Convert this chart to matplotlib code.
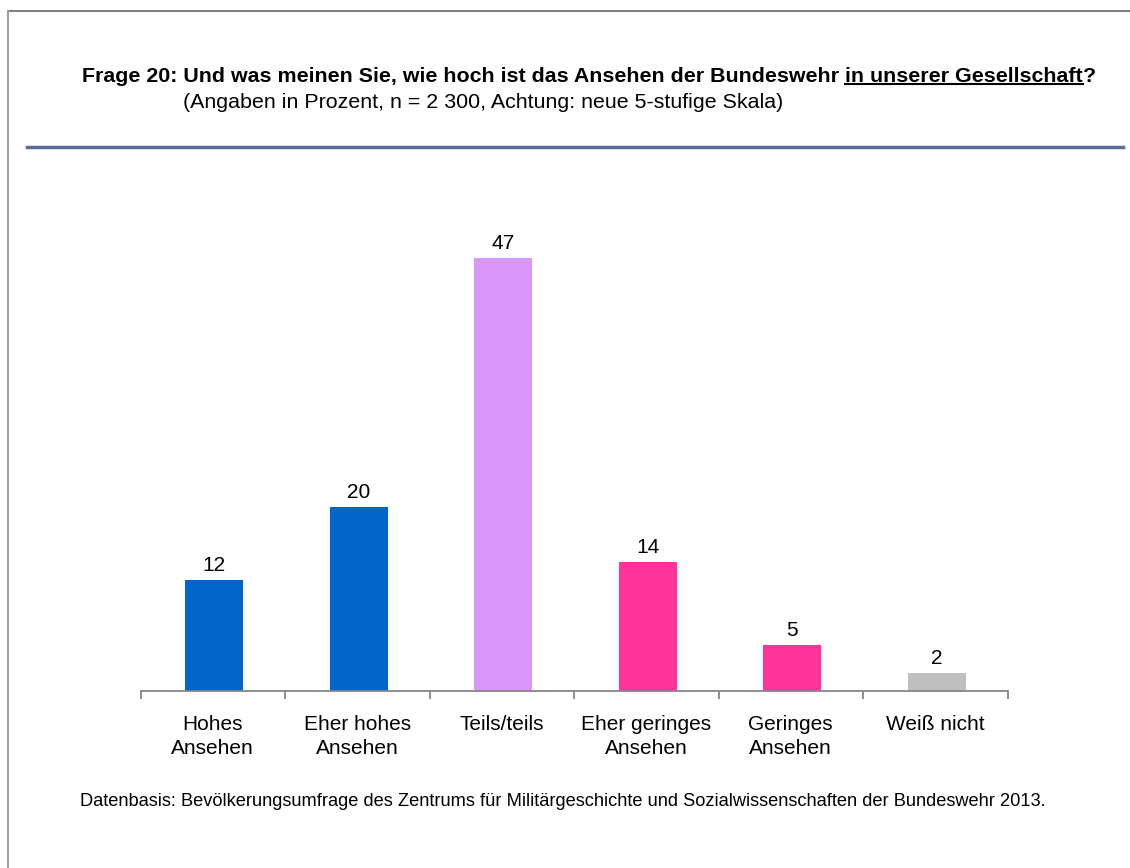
import numpy as np
import matplotlib.pyplot as plt
from matplotlib.lines import Line2D

plt.rcParams['font.family'] = ['Liberation Sans', 'DejaVu Sans']

#data
categories = ["Hohes\nAnsehen", "Eher hohes\nAnsehen", "Teils/teils",
              "Eher geringes\nAnsehen", "Geringes\nAnsehen", "Weiß nicht"]
values = [12, 20, 47, 14, 5, 2]
colors = ["#0066cc", "#0066cc", "#da96fb", "#ff3399", "#ff3399", "#bfbfbf"]

W, H = 1130, 868
fig = plt.figure(figsize=(W/100, H/100), dpi=100)

#frame lines (top and left only)
fig.add_artist(Line2D([7.5/W, 1], [1-11/H, 1-11/H], color="#7f7f7f", lw=1.5))
fig.add_artist(Line2D([7.5/W, 7.5/W], [0, 1-11/H], color="#a0a0a0", lw=1.5))

#title, built in pieces so the middle part can be underlined
ty = 1-76/H
fs = 15.4
a = fig.text(82/W, ty, "Frage 20: Und was meinen Sie, wie hoch ist das Ansehen der Bundeswehr ",
             fontsize=fs, fontweight="bold", va="center", ha="left")
fig.canvas.draw()
ra = a.get_window_extent()
u = fig.text(ra.x1/W, ty, "in unserer Gesellschaft", fontsize=fs,
             fontweight="bold", va="center", ha="left")
fig.canvas.draw()
ru = u.get_window_extent()
fig.text(ru.x1/W, ty, "?", fontsize=fs, fontweight="bold", va="center", ha="left")
fig.add_artist(Line2D([ru.x0/W, ru.x1/W], [1-84/H, 1-84/H], color="black", lw=1.5))
fig.text(183/W, 1-103/H, "(Angaben in Prozent, n = 2 300, Achtung: neue 5-stufige Skala)",
         fontsize=15.4, va="center", ha="left")
fig.add_artist(Line2D([27/W, 1123/W], [1-147/H, 1-147/H], color="#5b6b98", lw=2.5))

#chart
ax = fig.add_axes([140.5/W, 1-691/H, 867/W, 460.6/H])
x = np.arange(len(values))
ax.bar(x + 0.01, values, width=0.4, color=colors)
for xi, v in zip(x, values):
    ax.text(xi + 0.01, v + 0.55, str(v), ha="center", va="bottom", fontsize=15)
ax.set_xlim(-0.5, 5.5)
ax.set_ylim(0, 50)
for s in ["top", "right", "left"]:
    ax.spines[s].set_visible(False)
ax.spines["bottom"].set_color("#868686")
ax.spines["bottom"].set_linewidth(1.3)
ax.set_yticks([])
ax.set_xticks(x)
ax.set_xticklabels(categories, fontsize=15, linespacing=1.33)
ax.set_xticks(np.arange(-0.5, 6, 1), minor=True)
ax.tick_params(axis="x", which="major", length=0, pad=17)
ax.tick_params(axis="x", which="minor", length=6, color="#868686", width=1.3)

#footer (narrow font in the original)
foot = fig.text(80/W, 1-802/H,
                "Datenbasis: Bevölkerungsumfrage des Zentrums für Militärgeschichte und Sozialwissenschaften der Bundeswehr 2013.",
                fontsize=12, va="center", ha="left",
                family=["Liberation Sans Narrow", "Liberation Sans"])
fig.canvas.draw()
wf = foot.get_window_extent().width
foot.set_fontsize(12 * 967 / wf)

plt.savefig("out.png", dpi=100)
